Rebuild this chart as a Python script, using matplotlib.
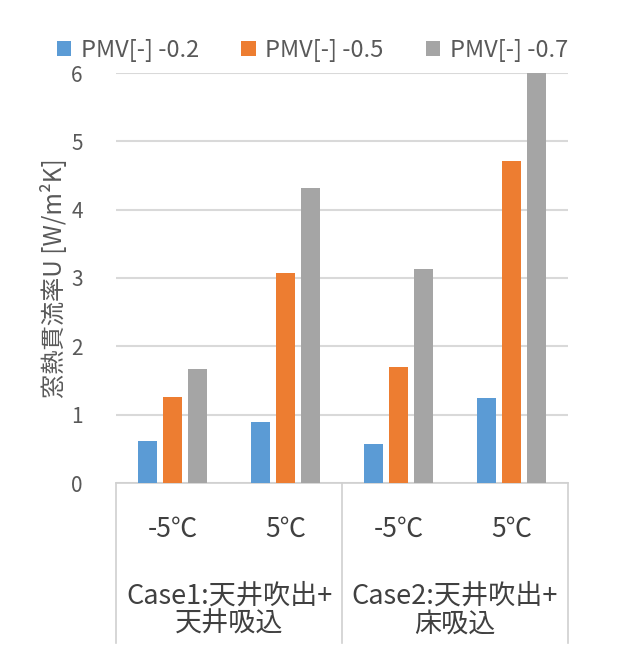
import numpy as np
import matplotlib
matplotlib.use('Agg')
import matplotlib.pyplot as plt
from matplotlib.lines import Line2D

plt.rcParams['font.family'] = ['Noto Sans CJK JP', 'DejaVu Sans']

# data
temps = ['-5℃', '5℃', '-5℃', '5℃']
cases = ['Case1:天井吹出+\n天井吸込', 'Case2:天井吹出+\n床吸込']
series = ['PMV[-] -0.2', 'PMV[-] -0.5', 'PMV[-] -0.7']
pmv_02 = [0.61, 0.90, 0.57, 1.24]
pmv_05 = [1.26, 3.08, 1.70, 4.71]
pmv_07 = [1.67, 4.31, 3.13, 6.20]
colors = ['#5B9BD5', '#ED7D31', '#A5A5A5']

fig = plt.figure(figsize=(6.26, 6.6), dpi=100)
ax = fig.add_axes([116 / 626, 1 - 483 / 660, 452 / 626, 410 / 660])

x = np.arange(len(temps))
width = 0.17
step = 0.22
for i, (vals, name, c) in enumerate(zip([pmv_02, pmv_05, pmv_07], series, colors)):
    ax.bar(x + (i - 1) * step, vals, width, color=c, label=name, zorder=3)

ax.set_xlim(-0.5, 3.5)
ax.set_ylim(0, 6)
ax.set_yticks(range(0, 7))
ax.yaxis.grid(True, color='#d9d9d9', linewidth=1.5, zorder=0)
for s in ['top', 'right', 'left']:
    ax.spines[s].set_visible(False)
ax.spines['bottom'].set_color('#d0d0d0')
ax.spines['bottom'].set_linewidth(1.2)
ax.tick_params(axis='y', length=0, labelsize=15, labelcolor='#595959', pad=24)
ax.tick_params(axis='x', length=0, labelsize=19, labelcolor='#404040', pad=24)
ax.set_xticks(x)
ax.set_xticklabels(temps)

ax.set_ylabel('窓熱貫流率U [W/m²K]', fontsize=17.5, color='#595959', labelpad=2)

# category group labels and separators
trans = ax.get_xaxis_transform()
for xs in [-0.5, 1.5, 3.5]:
    ax.add_line(Line2D([xs, xs], [0, -0.39], transform=trans, color='#d0d0d0',
                       linewidth=1.2, clip_on=False))
for j, lab in enumerate(cases):
    ax.text(2 * j + 0.5, -0.31, lab, transform=trans, ha='center', va='center',
            fontsize=19.5, color='#404040', linespacing=1.05)

fig.legend(loc='upper left', bbox_to_anchor=(36 / 626, 1 - 18 / 660), ncol=3,
           frameon=False, fontsize=17, handlelength=0.6, handleheight=0.6,
           handletextpad=0.4, columnspacing=1.8, labelcolor='#595959')

fig.savefig('out.png', dpi=100)
